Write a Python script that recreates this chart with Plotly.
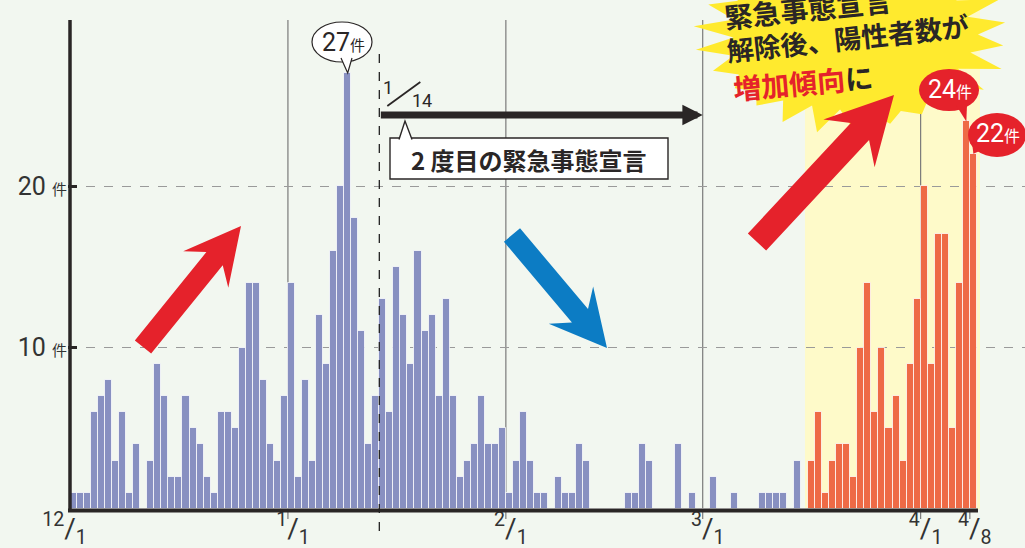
import numpy as np
import pandas as pd
import plotly.graph_objects as go

# ---------------- data ----------------
START = "2020-12-01"
COLOR_CHANGE_DATE = "2021-03-16"      # bars turn orange (after lifting)
DECLARATION_START = "2021-01-14"
DECLARATION_ARROW_END = "2021-03-01"

cases_dec = [1, 1, 1, 6, 7, 8, 3, 6, 1, 4, 0, 3, 9, 7, 2, 2, 7, 5, 4, 2, 1, 6, 6, 5, 10, 14, 14, 8, 4, 3, 7]
cases_jan = [14, 2, 8, 3, 12, 9, 16, 20, 27, 18, 11, 4, 7, 13, 6, 15, 12, 9, 16, 11, 12, 7, 13, 7, 2, 3, 4, 7, 4, 4, 5]
cases_feb = [1, 3, 6, 3, 1, 1, 0, 2, 1, 1, 4, 3, 0, 0, 0, 0, 0, 1, 1, 4, 3, 0, 0, 0, 4, 0, 1, 0]
cases_mar = [0, 2, 0, 0, 1, 0, 0, 0, 1, 1, 1, 1, 0, 3, 0, 3, 6, 1, 3, 4, 4, 2, 10, 14, 6, 10, 5, 7, 3, 9, 13]
cases_apr = [20, 9, 17, 17, 5, 14, 24, 22]

tick_dates = ["2020-12-01", "2021-01-01", "2021-02-01", "2021-03-01", "2021-04-01", "2021-04-08"]
tick_labels = [("12", "1"), ("1", "1"), ("2", "1"), ("3", "1"), ("4", "1"), ("4", "8")]
month_line_dates = ["2021-01-01", "2021-02-01", "2021-03-01", "2021-04-01"]
y_ticks = [10, 20]
UNIT = "件"
CALLOUT = "2 度目の緊急事態宣言"
DECL_LABEL = ("1", "14")
HEAD_LINE1 = "緊急事態宣言"
HEAD_LINE2 = "解除後、陽性者数が"
HEAD_RED = "増加傾向"
HEAD_TAIL = "に"

cases = cases_dec + cases_jan + cases_feb + cases_mar + cases_apr
dates = pd.date_range(START, periods=len(cases), freq="D")


def day(d):
    return (pd.Timestamp(d) - pd.Timestamp(START)).days


# ---------------- style / geometry ----------------
W, H = 1025, 548
BG = "#F2F7F0"
BLUE_BAR = "#8890C1"
ORANGE_BAR = "#EE6A46"
HILITE = "#FEFAC9"
BURST = "#FFEA2E"
RED = "#E5222B"
BLUE_ARROW = "#0C7CC4"
DARK = "#2A2626"
JP = "Noto Sans CJK JP"
NUM = "Liberation Sans Narrow, Roboto, Noto Sans CJK JP"

X0_PX, DAY_PX = 70.0, 7.03      # pixel of day 0, pixels per day
Y0_PX, UNIT_PX = 509.0, 16.15   # pixel of value 0, pixels per case
PLOT_L = 68


def X(px):
    return (px - X0_PX) / DAY_PX


def Y(py):
    return (Y0_PX - py) / UNIT_PX


def DX(p):
    return p / DAY_PX


n = len(cases)
change_idx = day(COLOR_CHANGE_DATE)
colors = [BLUE_BAR if dates[i] < pd.Timestamp(COLOR_CHANGE_DATE) else ORANGE_BAR for i in range(n)]

fig = go.Figure()
fig.add_trace(go.Bar(
    x=np.arange(n) + 0.5, y=cases, width=1.0,
    marker=dict(color=colors, line=dict(color="rgba(255,255,255,0.75)", width=1)),
    hoverinfo="skip",
))

shapes = []
annotations = []

# highlighted (after lifting) region
shapes.append(dict(type="rect", xref="x", yref="paper", x0=change_idx - 0.45, x1=X(980), y0=0, y1=1,
                   fillcolor=HILITE, line=dict(width=0), layer="below"))
# month lines
for d in month_line_dates:
    shapes.append(dict(type="line", xref="x", yref="y", x0=day(d), x1=day(d), y0=0, y1=Y(20),
                       line=dict(color="#7a7a7a", width=1.2), layer="below"))
# small tick marks under the baseline
for d in tick_dates[1:]:
    shapes.append(dict(type="line", xref="x", yref="paper", x0=day(d), x1=day(d), y0=-10 / Y0_PX, y1=0,
                       line=dict(color="#7a7a7a", width=1.2)))
# y axis line
shapes.append(dict(type="line", xref="x", yref="y", x0=0, x1=0, y0=0, y1=Y(20),
                   line=dict(color=DARK, width=3.5)))
# baseline
shapes.append(dict(type="line", xref="x", yref="paper", x0=X(68), x1=X(978), y0=-1.5 / Y0_PX, y1=-1.5 / Y0_PX,
                   line=dict(color=DARK, width=4)))
# declaration dashed line
dd = day(DECLARATION_START)
shapes.append(dict(type="line", xref="x", yref="paper", x0=dd, x1=dd, y0=-22 / Y0_PX, y1=(Y0_PX - 45) / Y0_PX,
                   line=dict(color="#222", width=1.3, dash="dash")))


# ---------------- burst ----------------
def burst_path(cx, cy, rx, ry, npts=26, inner=0.82, phase=0.1):
    pts = []
    for k in range(2 * npts):
        a = phase + np.pi * k / npts
        r = 1.0 if k % 2 == 0 else inner
        jitter = 1.0 + 0.05 * np.sin(3.7 * k)
        pts.append((X(cx + rx * r * jitter * np.cos(a)), Y(cy + ry * r * jitter * np.sin(a))))
    return "M " + " L ".join(f"{x:.3f},{y:.3f}" for x, y in pts) + " Z"


shapes.append(dict(type="path", xref="x", yref="y", path=burst_path(852, 36, 152, 94),
                   fillcolor=BURST, line=dict(width=0)))


# ---------------- block arrows (polygons) ----------------
def block_arrow(tail, tip, color, w, hw, hl, nd):
    t = np.array(tail, float)
    p = np.array(tip, float)
    u = (p - t) / np.linalg.norm(p - t)
    v = np.array([-u[1], u[0]])
    j = p - u * (hl - nd)
    b = p - u * hl
    pts = [t + v * w, j + v * w, b + v * hw, p, b - v * hw, j - v * w, t - v * w]
    path = "M " + " L ".join(f"{X(q[0]):.3f},{Y(q[1]):.3f}" for q in pts) + " Z"
    return dict(type="path", xref="x", yref="y", path=path, fillcolor=color, line=dict(width=0))


shapes.append(block_arrow((143, 347), (241, 226), RED, 10.5, 29, 56, 14))
shapes.append(block_arrow((512, 235), (607, 348), BLUE_ARROW, 10.5, 29, 56, 14))
shapes.append(block_arrow((757, 242), (894, 95), RED, 12.5, 35, 66, 16))


# ---------------- bubbles ----------------
def ellipse(cx, cy, rx, ry, fill, line_color=None, lw=0):
    return dict(type="circle", xref="x", yref="y", x0=X(cx - rx), x1=X(cx + rx), y0=Y(cy + ry), y1=Y(cy - ry),
                fillcolor=fill, line=dict(color=line_color or fill, width=lw))


def pointer(p1, tip, p2, fill, line_color=None, lw=0):
    path = f"M {X(p1[0]):.3f},{Y(p1[1]):.3f} L {tip[0]:.3f},{tip[1]:.3f} L {X(p2[0]):.3f},{Y(p2[1]):.3f}"
    return dict(type="path", xref="x", yref="y", path=path, fillcolor=fill,
                line=dict(color=line_color or fill, width=lw))


# 27 peak bubble
pk = int(np.argmax(cases))
pk_tip = (pk + 0.5, cases[pk])
shapes.append(ellipse(342, 42, 30, 20, "white", DARK, 1.2))
shapes.append(pointer((341, 58), pk_tip, (352, 58), "white", DARK, 1.2))
annotations.append(dict(x=X(343), y=Y(42), xref="x", yref="y", showarrow=False,
                        text=f"{cases[pk]}<span style='font-size:15px'>{UNIT}</span>",
                        font=dict(family=NUM, size=25, color=DARK)))

# last two days red bubbles
i24, i22 = n - 2, n - 1
shapes.append(ellipse(949, 90, 30, 21, RED))
shapes.append(pointer((956, 105), (i24 + 0.5, cases[i24]), (967, 105), RED))
annotations.append(dict(x=X(950), y=Y(89), xref="x", yref="y", showarrow=False,
                        text=f"{cases[i24]}<span style='font-size:16px'>{UNIT}</span>",
                        font=dict(family=NUM, size=25, color="white")))
shapes.append(ellipse(997, 135, 29, 22, RED))
shapes.append(pointer((972, 142), (i22 + 0.5, cases[i22]), (982, 150), RED))
annotations.append(dict(x=X(998), y=Y(133), xref="x", yref="y", showarrow=False,
                        text=f"{cases[i22]}<span style='font-size:16px'>{UNIT}</span>",
                        font=dict(family=NUM, size=25, color="white")))

# ---------------- declaration arrow + callout ----------------
arrow_y = Y(115)
annotations.append(dict(x=day(DECLARATION_ARROW_END), y=arrow_y, ax=dd, ay=arrow_y,
                        xref="x", yref="y", axref="x", ayref="y", text="", showarrow=True,
                        arrowhead=2, arrowwidth=7, arrowsize=0.58, arrowcolor=DARK))
annotations.append(dict(x=dd + DX(9), y=Y(87), xref="x", yref="y", showarrow=False, text=DECL_LABEL[0],
                        font=dict(family=NUM, size=18, color=DARK)))
annotations.append(dict(x=dd + DX(43), y=Y(100), xref="x", yref="y", showarrow=False, text=DECL_LABEL[1],
                        font=dict(family=NUM, size=18, color=DARK)))
shapes.append(dict(type="line", xref="x", yref="y", x0=dd + DX(8), y0=Y(106), x1=dd + DX(41), y1=Y(82),
                   line=dict(color=DARK, width=1.8)))
# callout box
shapes.append(dict(type="rect", xref="x", yref="y", x0=X(390), x1=X(668), y0=Y(179), y1=Y(138),
                   fillcolor="white", line=dict(color=DARK, width=1.4)))
shapes.append(pointer((399, 139.5), (X(405), Y(121)), (412, 139.5), "white", DARK, 1.4))
annotations.append(dict(x=X(529), y=Y(159), xref="x", yref="y", showarrow=False, text=CALLOUT,
                        font=dict(family=JP, size=24, color=DARK, weight="bold")))

# ---------------- headline in burst ----------------
annotations.append(dict(x=X(808), y=Y(8), xref="x", yref="y", showarrow=False, text=HEAD_LINE1,
                        textangle=-6, font=dict(family=JP, size=28, color=DARK, weight="bold")))
annotations.append(dict(x=X(847), y=Y(37), xref="x", yref="y", showarrow=False, text=HEAD_LINE2,
                        textangle=-6, font=dict(family=JP, size=27, color=DARK, weight="bold")))
annotations.append(dict(x=X(803), y=Y(82), xref="x", yref="y", showarrow=False,
                        text=f"<span style='color:{RED}'>{HEAD_RED}</span>{HEAD_TAIL}",
                        textangle=-5, font=dict(family=JP, size=28, color=DARK, weight="bold")))

# ---------------- axes ----------------
tick_pos = [day(d) for d in tick_dates]
tick_text = [f"<sup>{a}</sup><span style='font-size:28px'>/</span><sub>{b}</sub>" for a, b in tick_labels]
tick_text[0] = tick_text[0] + "\u00a0\u00a0\u00a0"

fig.update_layout(
    width=W, height=H,
    margin=dict(l=PLOT_L, r=0, t=0, b=H - int(Y0_PX)),
    paper_bgcolor=BG, plot_bgcolor=BG,
    showlegend=False, bargap=0,
    shapes=shapes, annotations=annotations,
    xaxis=dict(range=[X(PLOT_L), X(W)], tickmode="array", tickvals=tick_pos, ticktext=tick_text,
               ticks="", ticklabelshift=5,
               showgrid=False, zeroline=False, showline=False, automargin=False,
               tickfont=dict(family=NUM, size=28, color="#333")),
    yaxis=dict(range=[0, Y(0)], tickmode="array", tickvals=y_ticks,
               ticktext=[f"{v} <span style='font-size:15px'>{UNIT}</span>" for v in y_ticks],
               ticks="inside", ticklen=9, tickwidth=3, tickcolor=DARK,
               showgrid=True, gridcolor="#9a9a9a", griddash="dash", gridwidth=1,
               zeroline=False, showline=False, automargin=False,
               tickfont=dict(family=NUM, size=25, color="#333")),
)

fig.write_html("out.html", config={"displayModeBar": False},
               post_script="document.body.style.margin='0px';")
